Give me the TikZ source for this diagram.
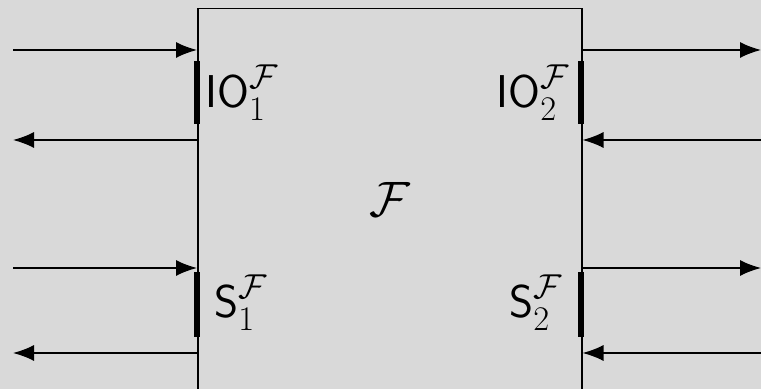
\documentclass[tikz,border=0pt]{standalone}
\usetikzlibrary{arrows.meta}
\definecolor{bg}{HTML}{D9D9D9}
\begin{document}
\begin{tikzpicture}[x=0.5pt,y=-0.5pt,
  thin line/.style={line width=0.75pt, black},
  arr/.style={thin line, -{Latex[length=10.5pt,width=8pt]}},
  bar/.style={line width=2.6pt, black},
  lab/.style={inner sep=0pt, font=\fontsize{23}{28}\selectfont}]
\useasboundingbox[fill=bg] (0,0) rectangle (761,389);
\node[draw, thin line, fill=bg, minimum width=192pt, minimum height=190.8pt, inner sep=0pt, anchor=north west] (F) at (197,8) {};
\node[lab] (c) at (390,200) {$\mathcal{F}$};
% coordinates for free ends
\coordinate (la) at (13,50);
\coordinate (lb) at (13,140);
\coordinate (lc) at (13,268);
\coordinate (ld) at (13,353);
\coordinate (ra) at (761,50);
\coordinate (rb) at (761,140);
\coordinate (rc) at (761,268);
\coordinate (rd) at (761,353);
\draw[arr] (la) -- (F.west |- la);
\draw[arr] (F.west |- lb) -- (lb);
\draw[arr] (lc) -- (F.west |- lc);
\draw[arr] (F.west |- ld) -- (ld);
\draw[arr] (F.east |- ra) -- (ra);
\draw[arr] (rb) -- (F.east |- rb);
\draw[arr] (F.east |- rc) -- (rc);
\draw[arr] (rd) -- (F.east |- rd);
% ports
\coordinate (p1a) at (197,61); \coordinate (p1b) at (197,124);
\coordinate (p2a) at (581,61); \coordinate (p2b) at (581,124);
\coordinate (s1a) at (197,272); \coordinate (s1b) at (197,337);
\coordinate (s2a) at (581,272); \coordinate (s2b) at (581,337);
\draw[bar] (p1a) -- (p1b);
\draw[bar] (p2a) -- (p2b);
\draw[bar] (s1a) -- (s1b);
\draw[bar] (s2a) -- (s2b);
\node[lab, anchor=base west] (io1) at (205,108) {$\textsf{IO}_1^{\mathcal F}$};
\node[lab, anchor=base east] (io2) at (570,108) {$\textsf{IO}_2^{\mathcal F}$};
\node[lab, anchor=base west] (s1) at (214,318) {$\textsf{S}_1^{\mathcal F}$};
\node[lab, anchor=base east] (s2) at (563,318) {$\textsf{S}_2^{\mathcal F}$};
\end{tikzpicture}
\end{document}
